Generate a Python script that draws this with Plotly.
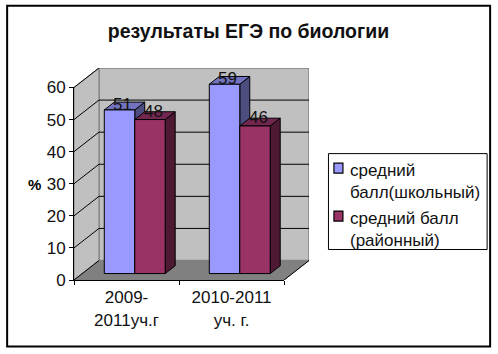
import plotly.graph_objects as go

categories = ["2009-<br>2011уч.г", "2010-2011<br>уч. г."]
series_names = ["средний<br>балл(школьный)", "средний балл<br>(районный)"]
school_values = [51, 59]
district_values = [48, 46]
y_ticks = [0, 10, 20, 30, 40, 50, 60]

FRONT_COLORS = ["#9999FF", "#993366"]
SIDE_COLORS = ["#4D4D80", "#4D1933"]
TOP_COLORS = ["#7373BF", "#732650"]

W, H = 498, 354
PX_L, PX_R, PX_T, PX_B = 73.5, 284.0, 87.3, 280.0
DEPTH_PX_X, DEPTH_PX_Y = 25.0, 19.5
YMAX = 60
NCAT = len(categories)
DX = DEPTH_PX_X / ((PX_R - PX_L) / NCAT)
DY = DEPTH_PX_Y / ((PX_B - PX_T) / YMAX)
BAR_W = 0.29
D0, D1 = 0.33, 0.73

# the outer subplot holds the 3-D box; the inner axes are the front plane
OUT_L, OUT_R, OUT_T, OUT_B = PX_L, PX_R + DEPTH_PX_X, PX_T - DEPTH_PX_Y, PX_B


def px_x(px):
    return (px - OUT_L) / (OUT_R - OUT_L)


def px_y(px):
    return (OUT_B - px) / (OUT_B - OUT_T)


def pr(u, v, d):
    return u + d * DX, v + d * DY


fig = go.Figure()


def poly(points, fill, line="black", width=1.0):
    xs, ys = zip(*[pr(*p) for p in points + points[:1]])
    fig.add_trace(go.Scatter(x=xs, y=ys, mode="lines", fill="toself", fillcolor=fill,
                             line=dict(color=line, width=width), cliponaxis=False,
                             showlegend=False, hoverinfo="skip"))


def seg(points, color="black", width=1.0):
    xs, ys = zip(*[pr(*p) for p in points])
    fig.add_trace(go.Scatter(x=xs, y=ys, mode="lines", line=dict(color=color, width=width),
                             cliponaxis=False, showlegend=False, hoverinfo="skip"))


# walls and floor
poly([(0, 0, 1), (NCAT, 0, 1), (NCAT, YMAX, 1), (0, YMAX, 1)], "#C0C0C0", "#808080", 1.5)
poly([(0, 0, 0), (0, 0, 1), (0, YMAX, 1), (0, YMAX, 0)], "#C0C0C0", "#808080", 1)
poly([(0, 0, 0), (NCAT, 0, 0), (NCAT, 0, 1), (0, 0, 1)], "#808080", "#808080", 1)
seg([(NCAT, 0, 0), (NCAT, 0, 1)])

# gridlines
for t in y_ticks:
    if t == 0 or t == YMAX:
        seg([(0, t, 0), (0, t, 1)])
    else:
        seg([(0, t, 0), (0, t, 1), (NCAT, t, 1)])

# bars
all_values = [school_values, district_values]
labels_x, labels_y, labels_t = [], [], []
LABEL_SHIFT = [(-0.02, 0.2), (-0.015, 0.9)]
for c in range(NCAT):
    for s, vals in enumerate(all_values):
        v = vals[c]
        u0 = c + 0.5 - BAR_W + s * BAR_W
        u1 = u0 + BAR_W
        poly([(u1, 0, D0), (u1, 0, D1), (u1, v, D1), (u1, v, D0)], SIDE_COLORS[s])
        poly([(u0, v, D0), (u1, v, D0), (u1, v, D1), (u0, v, D1)], TOP_COLORS[s])
        poly([(u0, 0, D0), (u1, 0, D0), (u1, v, D0), (u0, v, D0)], FRONT_COLORS[s])
        lx, ly = pr((u0 + u1) / 2, v, (D0 + D1) / 2)
        labels_x.append(lx + LABEL_SHIFT[s][0])
        labels_y.append(ly + LABEL_SHIFT[s][1])
        labels_t.append(str(v))

fig.add_trace(go.Scatter(x=labels_x, y=labels_y, text=labels_t, mode="text",
                         textposition="middle center", cliponaxis=False,
                         textfont=dict(size=17, color="#111111", family="Liberation Sans"),
                         showlegend=False, hoverinfo="skip"))

# legend entries live on the front-plane axes, which also makes those axes draw
for s, name in enumerate(series_names):
    fig.add_trace(go.Scatter(x=[None], y=[None], mode="markers", name=name, xaxis="x2", yaxis="y2",
                             marker=dict(symbol="square", size=9, color="rgba(0,0,0,0)",
                                         line=dict(width=0))))

fig.add_annotation(text="<b>%</b>", xref="paper", yref="paper", showarrow=False,
                   x=px_x(34), y=px_y(184), xanchor="center", yanchor="middle",
                   font=dict(size=15, color="black", family="Liberation Sans"))

def rect(x0, y0, x1, y1, fill, width):
    fig.add_shape(type="rect", xref="paper", yref="paper", x0=px_x(x0), x1=px_x(x1),
                  y0=px_y(y1), y1=px_y(y0), fillcolor=fill, line=dict(color="black", width=width))


rect(6.5, 5.5, 490.5, 346.5, "rgba(0,0,0,0)", 2)   # outer frame
rect(328.5, 153.5, 487.5, 249.5, "white", 1)       # legend box
rect(334, 163, 343, 173, FRONT_COLORS[0], 1.2)      # legend swatches
rect(334, 211, 343, 221, FRONT_COLORS[1], 1.2)

fig.update_layout(
    width=W, height=H, autosize=False,
    margin=dict(l=OUT_L, r=W - OUT_R, t=OUT_T, b=H - OUT_B, autoexpand=False),
    paper_bgcolor="white", plot_bgcolor="rgba(0,0,0,0)",
    font=dict(family="Liberation Sans", color="black"),
    title=dict(text="<b>результаты ЕГЭ по биологии</b>", x=248.5 / W, xanchor="center",
               y=1 - 31 / H, yanchor="middle", font=dict(size=19.5, color="#111111")),
    xaxis=dict(range=[0, NCAT + DX], visible=False, fixedrange=True),
    yaxis=dict(range=[0, YMAX + DY], visible=False, fixedrange=True),
    xaxis2=dict(domain=[px_x(PX_L), px_x(PX_R)], anchor="y2",
                range=[0, NCAT], tickvals=[i + 0.5 for i in range(NCAT)], ticktext=categories,
                ticks="", showgrid=False, zeroline=False, showline=True, linecolor="black",
                linewidth=1, tickfont=dict(size=17, color="#111111"), ticklabelstandoff=2,
                minor=dict(tickvals=list(range(NCAT + 1)), ticks="outside", ticklen=4,
                           tickcolor="black", tickwidth=1, showgrid=False)),
    yaxis2=dict(domain=[px_y(PX_B), px_y(PX_T)], anchor="x2",
                range=[0, YMAX], tickvals=y_ticks, ticks="outside", ticklen=4,
                tickcolor="black", showgrid=False, zeroline=False, showline=True,
                linecolor="black", linewidth=1, tickfont=dict(size=17, color="#111111")),
    legend=dict(x=px_x(325), xanchor="left", y=px_y(152), yanchor="top",
                bgcolor="rgba(0,0,0,0)", borderwidth=0,
                font=dict(size=17, color="#111111"), indentation=-15, itemwidth=30,
                tracegroupgap=0),
)

fig.write_html("out.html", config={"displayModeBar": False},
               post_script="document.body.style.margin='0';")
